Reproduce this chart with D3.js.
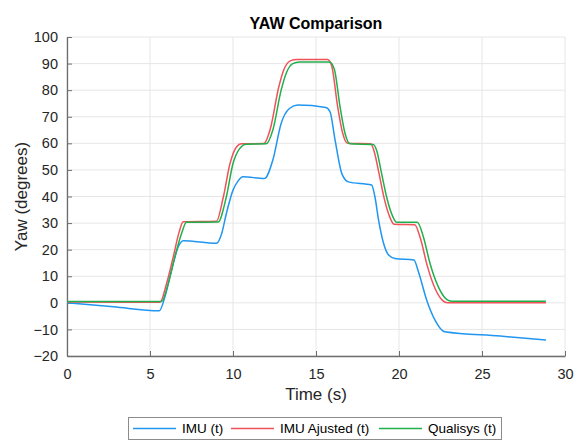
<!DOCTYPE html>
<html>
<head>
<meta charset="utf-8">
<script src="https://cdn.jsdelivr.net/npm/d3@7"></script>
<style>
  body { margin: 0; background: #fff; }
  svg { font-family: "Liberation Sans", Arial, sans-serif; }
</style>
</head>
<body>
<svg class="chart"></svg>
<script>
// values
var imuTime = [0, 2.8, 5.56, 5.9, 6.3, 6.7, 7.0, 9.0, 9.32, 9.6, 10.0, 10.3, 10.6, 11.9, 12.4, 12.9, 13.4, 13.9, 15.6, 15.85, 16.15, 16.55, 16.95, 18.35, 18.55, 18.77, 19.07, 19.37, 19.76, 20.9, 21.17, 21.67, 22.17, 22.75, 26.1, 28.85];
var imuYaw  = [0, -1.5, -3.0, 2.3, 12.3, 21.1, 23.4, 22.4, 26.1, 33.6, 42.4, 45.8, 47.4, 46.8, 53.7, 67.5, 73.1, 74.4, 73.5, 71.8, 61.2, 48.7, 45.5, 44.3, 39.9, 31.1, 22.4, 18.0, 16.7, 16.1, 11.7, 1.0, -6.5, -10.9, -12.5, -14.0];

var adjTime = [0, 5.6, 6.0, 6.4, 6.75, 7.0, 9.0, 9.42, 9.82, 10.22, 10.5, 11.85, 12.25, 12.75, 13.05, 13.45, 13.85, 15.7, 15.95, 16.3, 16.6, 16.9, 18.3, 18.5, 18.8, 19.1, 19.4, 19.7, 20.95, 21.3, 21.7, 22.2, 22.7, 22.95, 28.85];
var adjYaw  = [0.3, 0.2, 7.3, 17.3, 26.5, 30.5, 30.7, 39.9, 52.4, 58.7, 59.8, 59.9, 65.5, 81, 87.5, 91, 91.5, 91.5, 89, 74, 64, 60, 59.8, 57.0, 48.5, 39.5, 33, 29.6, 29.4, 24, 14, 5, 0.5, 0.0, 0.0];

var qualTime = [0, 5.7, 6.1, 6.5, 6.9, 7.2, 9.1, 9.6, 10.0, 10.4, 10.8, 12.0, 12.4, 12.9, 13.2, 13.6, 14.0, 15.8, 16.1, 16.45, 16.75, 17.05, 18.45, 18.65, 18.95, 19.25, 19.55, 19.86, 21.1, 21.47, 21.87, 22.37, 22.87, 23.17, 28.85];
var qualYaw  = [0.5, 0.5, 7.3, 17.3, 26.1, 30.3, 30.4, 39.9, 52.4, 58.0, 59.7, 59.8, 65, 80, 86.3, 90, 90.6, 90.6, 88, 73.7, 63.7, 59.8, 59.6, 57.4, 48.7, 39.9, 33.6, 30.3, 30.3, 24.8, 14.8, 6.0, 1.3, 0.6, 0.6];

var seriesNames = ["IMU (t)", "IMU Ajusted (t)", "Qualisys (t)"];
var seriesColors = ["#2196f0", "#f0525a", "#1fb04c"];
var xTicks = [0, 5, 10, 15, 20, 25, 30];
var yTicks = [-20, -10, 0, 10, 20, 30, 40, 50, 60, 70, 80, 90, 100];

var series = [
    {name: seriesNames[0], color: seriesColors[0], t: imuTime, v: imuYaw},
    {name: seriesNames[1], color: seriesColors[1], t: adjTime, v: adjYaw},
    {name: seriesNames[2], color: seriesColors[2], t: qualTime, v: qualYaw}
];

var W = 574, H = 446;
var margin = {top: 37, right: 9, bottom: 90, left: 67},
    width = W - margin.left - margin.right,
    height = H - margin.top - margin.bottom;

var svg = d3.select(".chart").attr("width", W).attr("height", H);
var g = svg.append("g").attr("transform", "translate(" + margin.left + "," + margin.top + ")");

var x = d3.scaleLinear().domain([0, 30]).range([0, width]);
var y = d3.scaleLinear().domain([-20, 100]).range([height, 0]);

// grid
g.append("g").selectAll("line").data(xTicks).enter().append("line")
    .attr("x1", function(d) { return x(d); }).attr("x2", function(d) { return x(d); })
    .attr("y1", 0).attr("y2", height)
    .attr("stroke", "#e6e6e6");
g.append("g").selectAll("line").data(yTicks).enter().append("line")
    .attr("x1", 0).attr("x2", width)
    .attr("y1", function(d) { return y(d); }).attr("y2", function(d) { return y(d); })
    .attr("stroke", "#e6e6e6");

// axes, matlab style: inward ticks
var xAxis = d3.axisBottom(x).tickValues(xTicks).tickSizeInner(-5).tickSizeOuter(0).tickPadding(13);
var yAxis = d3.axisLeft(y).tickValues(yTicks).tickSizeInner(-5).tickSizeOuter(0).tickPadding(9);

var gx = g.append("g").attr("transform", "translate(0," + height + ")").call(xAxis);
var gy = g.append("g").call(yAxis);
[gx, gy].forEach(function(a) {
    a.select(".domain").attr("stroke", "#6e6e6e").attr("stroke-width", 1.3);
    a.selectAll(".tick line").attr("stroke", "#6e6e6e");
    a.selectAll(".tick text").attr("fill", "#262626").style("font-size", "14.5px");
});

// lines
var line = d3.line()
    .x(function(d) { return x(d[0]); })
    .y(function(d) { return y(d[1]); })
    .curve(d3.curveMonotoneX);

g.selectAll(".series").data(series).enter().append("path")
    .attr("class", "series")
    .attr("fill", "none")
    .attr("stroke", function(d) { return d.color; })
    .attr("stroke-width", 1.5)
    .attr("d", function(d) { return line(d3.zip(d.t, d.v)); });

// title and labels
svg.append("text")
    .attr("x", margin.left + width / 2).attr("y", 29)
    .attr("text-anchor", "middle")
    .style("font-size", "16px").style("font-weight", "bold")
    .attr("fill", "#000")
    .text("YAW Comparison");

svg.append("text")
    .attr("x", margin.left + width / 2).attr("y", 400)
    .attr("text-anchor", "middle")
    .style("font-size", "17px")
    .attr("fill", "#262626")
    .text("Time (s)");

svg.append("text")
    .attr("transform", "translate(27," + (margin.top + height / 2) + ") rotate(-90)")
    .attr("text-anchor", "middle")
    .style("font-size", "17px")
    .attr("fill", "#262626")
    .text("Yaw (degrees)");

// legend
var legend = svg.append("g");
legend.append("rect")
    .attr("x", 128.5).attr("y", 417.5).attr("width", 373).attr("height", 22)
    .attr("fill", "#fff").attr("stroke", "#8c8c8c");

var legendX = [133, 231, 379];
var items = legend.selectAll(".item").data(series).enter().append("g")
    .attr("class", "item")
    .attr("transform", function(d, i) { return "translate(" + legendX[i] + ",428.5)"; });
items.append("line")
    .attr("x1", 0).attr("x2", 43)
    .attr("stroke", function(d) { return d.color; })
    .attr("stroke-width", 1.5);
items.append("text")
    .attr("x", 49).attr("y", 4.5)
    .style("font-size", "13.5px")
    .attr("fill", "#000")
    .text(function(d) { return d.name; });
</script>
</body>
</html>
